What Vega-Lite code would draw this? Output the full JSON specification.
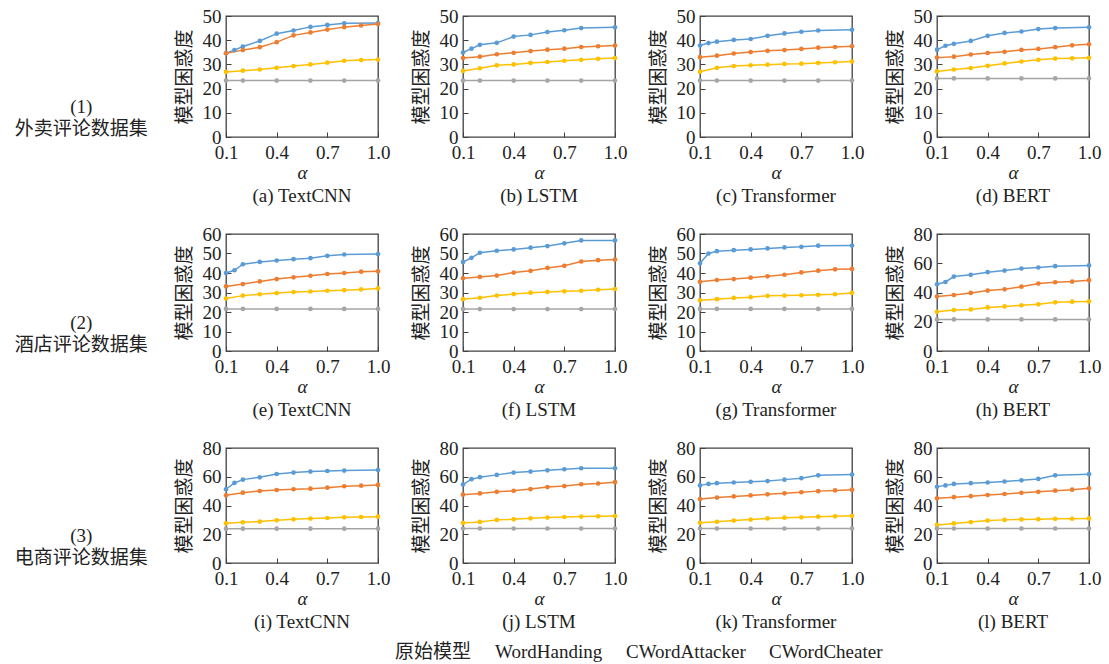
{
"$schema": "https://vega.github.io/schema/vega-lite/v6.json",
"padding": {"left": 14, "top": 6, "right": 5, "bottom": 5},
"background": "white",
"config": {
  "font": "Liberation Serif, Noto Sans CJK SC",
  "view": {"stroke": "#404040", "strokeWidth": 1.3},
  "axis": {"grid": false, "domain": false, "labelFlush": false, "tickColor": "#404040", "tickSize": -5, "labelFontSize": 19, "titleFontSize": 19, "labelColor": "#222", "titleColor": "#222", "titleFontWeight": "normal", "labelFont": "Liberation Serif", "titleFont": "Liberation Serif, Noto Sans CJK SC"},
  "axisX": {"titleFontStyle": "italic", "titlePadding": 1, "labelPadding": 11},
  "axisY": {"titlePadding": 8, "labelPadding": 10},
  "title": {"fontSize": 19, "fontWeight": "normal", "color": "#222", "font": "Liberation Serif, Noto Sans CJK SC"},
  "legend": {"orient": "none", "legendX": 150, "legendY": 626, "direction": "horizontal", "symbolSize": 1, "symbolOpacity": 0, "symbolStrokeWidth": 0, "labelFontSize": 19, "labelFont": "Liberation Serif, Noto Sans CJK SC", "labelColor": "#222", "columnPadding": 4, "labelOffset": 0}
},
"data": {"values": [
{"p":"a","s":"CWordCheater","x":0.1,"y":34.6},{"p":"a","s":"CWordCheater","x":0.15,"y":35.9},{"p":"a","s":"CWordCheater","x":0.2,"y":37.4},{"p":"a","s":"CWordCheater","x":0.3,"y":39.7},{"p":"a","s":"CWordCheater","x":0.4,"y":42.7},{"p":"a","s":"CWordCheater","x":0.5,"y":44},{"p":"a","s":"CWordCheater","x":0.6,"y":45.5},{"p":"a","s":"CWordCheater","x":0.7,"y":46.3},{"p":"a","s":"CWordCheater","x":0.8,"y":47},{"p":"a","s":"CWordCheater","x":1.0,"y":47.1},
{"p":"a","s":"CWordAttacker","x":0.1,"y":34.6},{"p":"a","s":"CWordAttacker","x":0.2,"y":35.9},{"p":"a","s":"CWordAttacker","x":0.3,"y":37.1},{"p":"a","s":"CWordAttacker","x":0.4,"y":39.2},{"p":"a","s":"CWordAttacker","x":0.5,"y":42},{"p":"a","s":"CWordAttacker","x":0.6,"y":43.2},{"p":"a","s":"CWordAttacker","x":0.7,"y":44.4},{"p":"a","s":"CWordAttacker","x":0.8,"y":45.4},{"p":"a","s":"CWordAttacker","x":0.9,"y":46.1},{"p":"a","s":"CWordAttacker","x":1.0,"y":46.7},
{"p":"a","s":"WordHanding","x":0.1,"y":26.9},{"p":"a","s":"WordHanding","x":0.2,"y":27.4},{"p":"a","s":"WordHanding","x":0.3,"y":27.9},{"p":"a","s":"WordHanding","x":0.4,"y":28.6},{"p":"a","s":"WordHanding","x":0.5,"y":29.3},{"p":"a","s":"WordHanding","x":0.6,"y":30},{"p":"a","s":"WordHanding","x":0.7,"y":30.7},{"p":"a","s":"WordHanding","x":0.8,"y":31.5},{"p":"a","s":"WordHanding","x":0.9,"y":31.8},{"p":"a","s":"WordHanding","x":1.0,"y":32},
{"p":"a","s":"原始模型","x":0.1,"y":23.3},{"p":"a","s":"原始模型","x":0.2,"y":23.3},{"p":"a","s":"原始模型","x":0.4,"y":23.3},{"p":"a","s":"原始模型","x":0.6,"y":23.3},{"p":"a","s":"原始模型","x":0.8,"y":23.3},{"p":"a","s":"原始模型","x":1.0,"y":23.3},

{"p":"b","s":"CWordCheater","x":0.1,"y":34.9},{"p":"b","s":"CWordCheater","x":0.15,"y":36.5},{"p":"b","s":"CWordCheater","x":0.2,"y":38.1},{"p":"b","s":"CWordCheater","x":0.3,"y":38.9},{"p":"b","s":"CWordCheater","x":0.4,"y":41.5},{"p":"b","s":"CWordCheater","x":0.5,"y":42.2},{"p":"b","s":"CWordCheater","x":0.6,"y":43.4},{"p":"b","s":"CWordCheater","x":0.7,"y":44.1},{"p":"b","s":"CWordCheater","x":0.8,"y":45},{"p":"b","s":"CWordCheater","x":1.0,"y":45.3},
{"p":"b","s":"CWordAttacker","x":0.1,"y":32.6},{"p":"b","s":"CWordAttacker","x":0.2,"y":33.2},{"p":"b","s":"CWordAttacker","x":0.3,"y":34.2},{"p":"b","s":"CWordAttacker","x":0.4,"y":34.8},{"p":"b","s":"CWordAttacker","x":0.5,"y":35.5},{"p":"b","s":"CWordAttacker","x":0.6,"y":36.1},{"p":"b","s":"CWordAttacker","x":0.7,"y":36.5},{"p":"b","s":"CWordAttacker","x":0.8,"y":37.2},{"p":"b","s":"CWordAttacker","x":0.9,"y":37.5},{"p":"b","s":"CWordAttacker","x":1.0,"y":37.8},
{"p":"b","s":"WordHanding","x":0.1,"y":27.3},{"p":"b","s":"WordHanding","x":0.2,"y":28.4},{"p":"b","s":"WordHanding","x":0.3,"y":29.6},{"p":"b","s":"WordHanding","x":0.4,"y":30},{"p":"b","s":"WordHanding","x":0.5,"y":30.6},{"p":"b","s":"WordHanding","x":0.6,"y":31},{"p":"b","s":"WordHanding","x":0.7,"y":31.5},{"p":"b","s":"WordHanding","x":0.8,"y":31.9},{"p":"b","s":"WordHanding","x":0.9,"y":32.3},{"p":"b","s":"WordHanding","x":1.0,"y":32.6},
{"p":"b","s":"原始模型","x":0.1,"y":23.3},{"p":"b","s":"原始模型","x":0.2,"y":23.3},{"p":"b","s":"原始模型","x":0.4,"y":23.3},{"p":"b","s":"原始模型","x":0.6,"y":23.3},{"p":"b","s":"原始模型","x":0.8,"y":23.3},{"p":"b","s":"原始模型","x":1.0,"y":23.3},

{"p":"c","s":"CWordCheater","x":0.1,"y":37.8},{"p":"c","s":"CWordCheater","x":0.15,"y":38.8},{"p":"c","s":"CWordCheater","x":0.2,"y":39.4},{"p":"c","s":"CWordCheater","x":0.3,"y":40.1},{"p":"c","s":"CWordCheater","x":0.4,"y":40.5},{"p":"c","s":"CWordCheater","x":0.5,"y":41.8},{"p":"c","s":"CWordCheater","x":0.6,"y":42.8},{"p":"c","s":"CWordCheater","x":0.7,"y":43.5},{"p":"c","s":"CWordCheater","x":0.8,"y":44},{"p":"c","s":"CWordCheater","x":1.0,"y":44.3},
{"p":"c","s":"CWordAttacker","x":0.1,"y":33},{"p":"c","s":"CWordAttacker","x":0.2,"y":33.6},{"p":"c","s":"CWordAttacker","x":0.3,"y":34.5},{"p":"c","s":"CWordAttacker","x":0.4,"y":35.1},{"p":"c","s":"CWordAttacker","x":0.5,"y":35.6},{"p":"c","s":"CWordAttacker","x":0.6,"y":35.9},{"p":"c","s":"CWordAttacker","x":0.7,"y":36.4},{"p":"c","s":"CWordAttacker","x":0.8,"y":36.9},{"p":"c","s":"CWordAttacker","x":0.9,"y":37.2},{"p":"c","s":"CWordAttacker","x":1.0,"y":37.5},
{"p":"c","s":"WordHanding","x":0.1,"y":27},{"p":"c","s":"WordHanding","x":0.2,"y":28.6},{"p":"c","s":"WordHanding","x":0.3,"y":29.3},{"p":"c","s":"WordHanding","x":0.4,"y":29.6},{"p":"c","s":"WordHanding","x":0.5,"y":29.9},{"p":"c","s":"WordHanding","x":0.6,"y":30.2},{"p":"c","s":"WordHanding","x":0.7,"y":30.3},{"p":"c","s":"WordHanding","x":0.8,"y":30.6},{"p":"c","s":"WordHanding","x":0.9,"y":30.9},{"p":"c","s":"WordHanding","x":1.0,"y":31.2},
{"p":"c","s":"原始模型","x":0.1,"y":23.3},{"p":"c","s":"原始模型","x":0.2,"y":23.3},{"p":"c","s":"原始模型","x":0.4,"y":23.3},{"p":"c","s":"原始模型","x":0.6,"y":23.3},{"p":"c","s":"原始模型","x":0.8,"y":23.3},{"p":"c","s":"原始模型","x":1.0,"y":23.3},

{"p":"d","s":"CWordCheater","x":0.1,"y":36.1},{"p":"d","s":"CWordCheater","x":0.15,"y":37.7},{"p":"d","s":"CWordCheater","x":0.2,"y":38.5},{"p":"d","s":"CWordCheater","x":0.3,"y":39.7},{"p":"d","s":"CWordCheater","x":0.4,"y":41.8},{"p":"d","s":"CWordCheater","x":0.5,"y":43},{"p":"d","s":"CWordCheater","x":0.6,"y":43.6},{"p":"d","s":"CWordCheater","x":0.7,"y":44.6},{"p":"d","s":"CWordCheater","x":0.8,"y":45},{"p":"d","s":"CWordCheater","x":1.0,"y":45.3},
{"p":"d","s":"CWordAttacker","x":0.1,"y":32.8},{"p":"d","s":"CWordAttacker","x":0.2,"y":33.2},{"p":"d","s":"CWordAttacker","x":0.3,"y":34.1},{"p":"d","s":"CWordAttacker","x":0.4,"y":34.7},{"p":"d","s":"CWordAttacker","x":0.5,"y":35.2},{"p":"d","s":"CWordAttacker","x":0.6,"y":36},{"p":"d","s":"CWordAttacker","x":0.7,"y":36.4},{"p":"d","s":"CWordAttacker","x":0.8,"y":37.1},{"p":"d","s":"CWordAttacker","x":0.9,"y":37.9},{"p":"d","s":"CWordAttacker","x":1.0,"y":38.3},
{"p":"d","s":"WordHanding","x":0.1,"y":27.1},{"p":"d","s":"WordHanding","x":0.2,"y":27.9},{"p":"d","s":"WordHanding","x":0.3,"y":28.5},{"p":"d","s":"WordHanding","x":0.4,"y":29.4},{"p":"d","s":"WordHanding","x":0.5,"y":30.4},{"p":"d","s":"WordHanding","x":0.6,"y":31.2},{"p":"d","s":"WordHanding","x":0.7,"y":31.9},{"p":"d","s":"WordHanding","x":0.8,"y":32.4},{"p":"d","s":"WordHanding","x":0.9,"y":32.5},{"p":"d","s":"WordHanding","x":1.0,"y":32.7},
{"p":"d","s":"原始模型","x":0.1,"y":24.2},{"p":"d","s":"原始模型","x":0.2,"y":24.2},{"p":"d","s":"原始模型","x":0.4,"y":24.2},{"p":"d","s":"原始模型","x":0.6,"y":24.2},{"p":"d","s":"原始模型","x":0.8,"y":24.2},{"p":"d","s":"原始模型","x":1.0,"y":24.2},

{"p":"e","s":"CWordCheater","x":0.1,"y":40},{"p":"e","s":"CWordCheater","x":0.15,"y":41.4},{"p":"e","s":"CWordCheater","x":0.2,"y":44.5},{"p":"e","s":"CWordCheater","x":0.3,"y":45.7},{"p":"e","s":"CWordCheater","x":0.4,"y":46.4},{"p":"e","s":"CWordCheater","x":0.5,"y":47.1},{"p":"e","s":"CWordCheater","x":0.6,"y":47.6},{"p":"e","s":"CWordCheater","x":0.7,"y":48.8},{"p":"e","s":"CWordCheater","x":0.8,"y":49.5},{"p":"e","s":"CWordCheater","x":1.0,"y":49.7},
{"p":"e","s":"CWordAttacker","x":0.1,"y":33.1},{"p":"e","s":"CWordAttacker","x":0.2,"y":34.3},{"p":"e","s":"CWordAttacker","x":0.3,"y":35.7},{"p":"e","s":"CWordAttacker","x":0.4,"y":36.9},{"p":"e","s":"CWordAttacker","x":0.5,"y":37.8},{"p":"e","s":"CWordAttacker","x":0.6,"y":38.6},{"p":"e","s":"CWordAttacker","x":0.7,"y":39.5},{"p":"e","s":"CWordAttacker","x":0.8,"y":40},{"p":"e","s":"CWordAttacker","x":0.9,"y":40.7},{"p":"e","s":"CWordAttacker","x":1.0,"y":40.9},
{"p":"e","s":"WordHanding","x":0.1,"y":26.9},{"p":"e","s":"WordHanding","x":0.2,"y":28.4},{"p":"e","s":"WordHanding","x":0.3,"y":29.1},{"p":"e","s":"WordHanding","x":0.4,"y":29.7},{"p":"e","s":"WordHanding","x":0.5,"y":30.2},{"p":"e","s":"WordHanding","x":0.6,"y":30.5},{"p":"e","s":"WordHanding","x":0.7,"y":30.9},{"p":"e","s":"WordHanding","x":0.8,"y":31.2},{"p":"e","s":"WordHanding","x":0.9,"y":31.6},{"p":"e","s":"WordHanding","x":1.0,"y":32.1},
{"p":"e","s":"原始模型","x":0.1,"y":21.6},{"p":"e","s":"原始模型","x":0.2,"y":21.6},{"p":"e","s":"原始模型","x":0.4,"y":21.6},{"p":"e","s":"原始模型","x":0.6,"y":21.6},{"p":"e","s":"原始模型","x":0.8,"y":21.6},{"p":"e","s":"原始模型","x":1.0,"y":21.6},

{"p":"f","s":"CWordCheater","x":0.1,"y":45.6},{"p":"f","s":"CWordCheater","x":0.15,"y":47.8},{"p":"f","s":"CWordCheater","x":0.2,"y":50.4},{"p":"f","s":"CWordCheater","x":0.3,"y":51.4},{"p":"f","s":"CWordCheater","x":0.4,"y":52.1},{"p":"f","s":"CWordCheater","x":0.5,"y":53},{"p":"f","s":"CWordCheater","x":0.6,"y":53.8},{"p":"f","s":"CWordCheater","x":0.7,"y":55.2},{"p":"f","s":"CWordCheater","x":0.8,"y":56.7},{"p":"f","s":"CWordCheater","x":1.0,"y":56.7},
{"p":"f","s":"CWordAttacker","x":0.1,"y":37.3},{"p":"f","s":"CWordAttacker","x":0.2,"y":38},{"p":"f","s":"CWordAttacker","x":0.3,"y":38.7},{"p":"f","s":"CWordAttacker","x":0.4,"y":40.2},{"p":"f","s":"CWordAttacker","x":0.5,"y":41.1},{"p":"f","s":"CWordAttacker","x":0.6,"y":42.6},{"p":"f","s":"CWordAttacker","x":0.7,"y":43.7},{"p":"f","s":"CWordAttacker","x":0.8,"y":45.9},{"p":"f","s":"CWordAttacker","x":0.9,"y":46.6},{"p":"f","s":"CWordAttacker","x":1.0,"y":46.9},
{"p":"f","s":"WordHanding","x":0.1,"y":26.6},{"p":"f","s":"WordHanding","x":0.2,"y":27.3},{"p":"f","s":"WordHanding","x":0.3,"y":28.4},{"p":"f","s":"WordHanding","x":0.4,"y":29.2},{"p":"f","s":"WordHanding","x":0.5,"y":29.9},{"p":"f","s":"WordHanding","x":0.6,"y":30.3},{"p":"f","s":"WordHanding","x":0.7,"y":30.6},{"p":"f","s":"WordHanding","x":0.8,"y":30.9},{"p":"f","s":"WordHanding","x":0.9,"y":31.4},{"p":"f","s":"WordHanding","x":1.0,"y":31.8},
{"p":"f","s":"原始模型","x":0.1,"y":21.5},{"p":"f","s":"原始模型","x":0.2,"y":21.5},{"p":"f","s":"原始模型","x":0.4,"y":21.5},{"p":"f","s":"原始模型","x":0.6,"y":21.5},{"p":"f","s":"原始模型","x":0.8,"y":21.5},{"p":"f","s":"原始模型","x":1.0,"y":21.5},

{"p":"g","s":"CWordCheater","x":0.1,"y":45},{"p":"g","s":"CWordCheater","x":0.15,"y":50},{"p":"g","s":"CWordCheater","x":0.2,"y":51.2},{"p":"g","s":"CWordCheater","x":0.3,"y":51.7},{"p":"g","s":"CWordCheater","x":0.4,"y":52.1},{"p":"g","s":"CWordCheater","x":0.5,"y":52.6},{"p":"g","s":"CWordCheater","x":0.6,"y":53.1},{"p":"g","s":"CWordCheater","x":0.7,"y":53.4},{"p":"g","s":"CWordCheater","x":0.8,"y":54},{"p":"g","s":"CWordCheater","x":1.0,"y":54.1},
{"p":"g","s":"CWordAttacker","x":0.1,"y":35.5},{"p":"g","s":"CWordAttacker","x":0.2,"y":36.4},{"p":"g","s":"CWordAttacker","x":0.3,"y":36.9},{"p":"g","s":"CWordAttacker","x":0.4,"y":37.6},{"p":"g","s":"CWordAttacker","x":0.5,"y":38.3},{"p":"g","s":"CWordAttacker","x":0.6,"y":39.1},{"p":"g","s":"CWordAttacker","x":0.7,"y":40.3},{"p":"g","s":"CWordAttacker","x":0.8,"y":41.2},{"p":"g","s":"CWordAttacker","x":0.9,"y":41.9},{"p":"g","s":"CWordAttacker","x":1.0,"y":42.1},
{"p":"g","s":"WordHanding","x":0.1,"y":26},{"p":"g","s":"WordHanding","x":0.2,"y":26.6},{"p":"g","s":"WordHanding","x":0.3,"y":27.2},{"p":"g","s":"WordHanding","x":0.4,"y":27.6},{"p":"g","s":"WordHanding","x":0.5,"y":28.3},{"p":"g","s":"WordHanding","x":0.6,"y":28.4},{"p":"g","s":"WordHanding","x":0.7,"y":28.6},{"p":"g","s":"WordHanding","x":0.8,"y":28.8},{"p":"g","s":"WordHanding","x":0.9,"y":29.1},{"p":"g","s":"WordHanding","x":1.0,"y":29.8},
{"p":"g","s":"原始模型","x":0.1,"y":21.6},{"p":"g","s":"原始模型","x":0.2,"y":21.6},{"p":"g","s":"原始模型","x":0.4,"y":21.6},{"p":"g","s":"原始模型","x":0.6,"y":21.6},{"p":"g","s":"原始模型","x":0.8,"y":21.6},{"p":"g","s":"原始模型","x":1.0,"y":21.6},

{"p":"h","s":"CWordCheater","x":0.1,"y":45.6},{"p":"h","s":"CWordCheater","x":0.15,"y":47.2},{"p":"h","s":"CWordCheater","x":0.2,"y":50.9},{"p":"h","s":"CWordCheater","x":0.3,"y":52.1},{"p":"h","s":"CWordCheater","x":0.4,"y":53.9},{"p":"h","s":"CWordCheater","x":0.5,"y":55},{"p":"h","s":"CWordCheater","x":0.6,"y":56.4},{"p":"h","s":"CWordCheater","x":0.7,"y":57.1},{"p":"h","s":"CWordCheater","x":0.8,"y":58},{"p":"h","s":"CWordCheater","x":1.0,"y":58.5},
{"p":"h","s":"CWordAttacker","x":0.1,"y":37.2},{"p":"h","s":"CWordAttacker","x":0.2,"y":38.3},{"p":"h","s":"CWordAttacker","x":0.3,"y":39.7},{"p":"h","s":"CWordAttacker","x":0.4,"y":41.3},{"p":"h","s":"CWordAttacker","x":0.5,"y":42.2},{"p":"h","s":"CWordAttacker","x":0.6,"y":44},{"p":"h","s":"CWordAttacker","x":0.7,"y":46.1},{"p":"h","s":"CWordAttacker","x":0.8,"y":47},{"p":"h","s":"CWordAttacker","x":0.9,"y":47.5},{"p":"h","s":"CWordAttacker","x":1.0,"y":48.4},
{"p":"h","s":"WordHanding","x":0.1,"y":26.8},{"p":"h","s":"WordHanding","x":0.2,"y":28},{"p":"h","s":"WordHanding","x":0.3,"y":28.4},{"p":"h","s":"WordHanding","x":0.4,"y":29.8},{"p":"h","s":"WordHanding","x":0.5,"y":30.5},{"p":"h","s":"WordHanding","x":0.6,"y":31.2},{"p":"h","s":"WordHanding","x":0.7,"y":31.9},{"p":"h","s":"WordHanding","x":0.8,"y":33.3},{"p":"h","s":"WordHanding","x":0.9,"y":33.7},{"p":"h","s":"WordHanding","x":1.0,"y":33.9},
{"p":"h","s":"原始模型","x":0.1,"y":21.6},{"p":"h","s":"原始模型","x":0.2,"y":21.6},{"p":"h","s":"原始模型","x":0.4,"y":21.6},{"p":"h","s":"原始模型","x":0.6,"y":21.6},{"p":"h","s":"原始模型","x":0.8,"y":21.6},{"p":"h","s":"原始模型","x":1.0,"y":21.6},

{"p":"i","s":"CWordCheater","x":0.1,"y":51.3},{"p":"i","s":"CWordCheater","x":0.15,"y":55.7},{"p":"i","s":"CWordCheater","x":0.2,"y":58},{"p":"i","s":"CWordCheater","x":0.3,"y":59.6},{"p":"i","s":"CWordCheater","x":0.4,"y":61.9},{"p":"i","s":"CWordCheater","x":0.5,"y":62.9},{"p":"i","s":"CWordCheater","x":0.6,"y":63.6},{"p":"i","s":"CWordCheater","x":0.7,"y":64},{"p":"i","s":"CWordCheater","x":0.8,"y":64.3},{"p":"i","s":"CWordCheater","x":1.0,"y":64.7},
{"p":"i","s":"CWordAttacker","x":0.1,"y":47.1},{"p":"i","s":"CWordAttacker","x":0.2,"y":48.9},{"p":"i","s":"CWordAttacker","x":0.3,"y":50.1},{"p":"i","s":"CWordAttacker","x":0.4,"y":50.8},{"p":"i","s":"CWordAttacker","x":0.5,"y":51.3},{"p":"i","s":"CWordAttacker","x":0.6,"y":51.7},{"p":"i","s":"CWordAttacker","x":0.7,"y":52.4},{"p":"i","s":"CWordAttacker","x":0.8,"y":53.4},{"p":"i","s":"CWordAttacker","x":0.9,"y":53.8},{"p":"i","s":"CWordAttacker","x":1.0,"y":54.3},
{"p":"i","s":"WordHanding","x":0.1,"y":27.6},{"p":"i","s":"WordHanding","x":0.2,"y":28.3},{"p":"i","s":"WordHanding","x":0.3,"y":28.8},{"p":"i","s":"WordHanding","x":0.4,"y":29.7},{"p":"i","s":"WordHanding","x":0.5,"y":30.4},{"p":"i","s":"WordHanding","x":0.6,"y":30.9},{"p":"i","s":"WordHanding","x":0.7,"y":31.3},{"p":"i","s":"WordHanding","x":0.8,"y":31.8},{"p":"i","s":"WordHanding","x":0.9,"y":32},{"p":"i","s":"WordHanding","x":1.0,"y":32.2},
{"p":"i","s":"原始模型","x":0.1,"y":23.9},{"p":"i","s":"原始模型","x":0.2,"y":23.9},{"p":"i","s":"原始模型","x":0.4,"y":23.9},{"p":"i","s":"原始模型","x":0.6,"y":23.9},{"p":"i","s":"原始模型","x":0.8,"y":23.9},{"p":"i","s":"原始模型","x":1.0,"y":23.9},

{"p":"j","s":"CWordCheater","x":0.1,"y":54.6},{"p":"j","s":"CWordCheater","x":0.15,"y":58.3},{"p":"j","s":"CWordCheater","x":0.2,"y":59.7},{"p":"j","s":"CWordCheater","x":0.3,"y":61.3},{"p":"j","s":"CWordCheater","x":0.4,"y":62.9},{"p":"j","s":"CWordCheater","x":0.5,"y":63.6},{"p":"j","s":"CWordCheater","x":0.6,"y":64.5},{"p":"j","s":"CWordCheater","x":0.7,"y":65.2},{"p":"j","s":"CWordCheater","x":0.8,"y":65.9},{"p":"j","s":"CWordCheater","x":1.0,"y":65.9},
{"p":"j","s":"CWordAttacker","x":0.1,"y":47.5},{"p":"j","s":"CWordAttacker","x":0.2,"y":48.4},{"p":"j","s":"CWordAttacker","x":0.3,"y":49.5},{"p":"j","s":"CWordAttacker","x":0.4,"y":50.2},{"p":"j","s":"CWordAttacker","x":0.5,"y":51.4},{"p":"j","s":"CWordAttacker","x":0.6,"y":52.8},{"p":"j","s":"CWordAttacker","x":0.7,"y":53.5},{"p":"j","s":"CWordAttacker","x":0.8,"y":54.8},{"p":"j","s":"CWordAttacker","x":0.9,"y":55.3},{"p":"j","s":"CWordAttacker","x":1.0,"y":56.2},
{"p":"j","s":"WordHanding","x":0.1,"y":27.9},{"p":"j","s":"WordHanding","x":0.2,"y":28.6},{"p":"j","s":"WordHanding","x":0.3,"y":30},{"p":"j","s":"WordHanding","x":0.4,"y":30.4},{"p":"j","s":"WordHanding","x":0.5,"y":31.1},{"p":"j","s":"WordHanding","x":0.6,"y":31.6},{"p":"j","s":"WordHanding","x":0.7,"y":32},{"p":"j","s":"WordHanding","x":0.8,"y":32.3},{"p":"j","s":"WordHanding","x":0.9,"y":32.5},{"p":"j","s":"WordHanding","x":1.0,"y":32.7},
{"p":"j","s":"原始模型","x":0.1,"y":24},{"p":"j","s":"原始模型","x":0.2,"y":24},{"p":"j","s":"原始模型","x":0.4,"y":24},{"p":"j","s":"原始模型","x":0.6,"y":24},{"p":"j","s":"原始模型","x":0.8,"y":24},{"p":"j","s":"原始模型","x":1.0,"y":24},

{"p":"k","s":"CWordCheater","x":0.1,"y":54},{"p":"k","s":"CWordCheater","x":0.15,"y":55},{"p":"k","s":"CWordCheater","x":0.2,"y":55.5},{"p":"k","s":"CWordCheater","x":0.3,"y":56},{"p":"k","s":"CWordCheater","x":0.4,"y":56.5},{"p":"k","s":"CWordCheater","x":0.5,"y":57},{"p":"k","s":"CWordCheater","x":0.6,"y":58},{"p":"k","s":"CWordCheater","x":0.7,"y":59},{"p":"k","s":"CWordCheater","x":0.8,"y":61},{"p":"k","s":"CWordCheater","x":1.0,"y":61.5},
{"p":"k","s":"CWordAttacker","x":0.1,"y":44.5},{"p":"k","s":"CWordAttacker","x":0.2,"y":45.5},{"p":"k","s":"CWordAttacker","x":0.3,"y":46.3},{"p":"k","s":"CWordAttacker","x":0.4,"y":47},{"p":"k","s":"CWordAttacker","x":0.5,"y":47.8},{"p":"k","s":"CWordAttacker","x":0.6,"y":48.5},{"p":"k","s":"CWordAttacker","x":0.7,"y":49.2},{"p":"k","s":"CWordAttacker","x":0.8,"y":50},{"p":"k","s":"CWordAttacker","x":0.9,"y":50.5},{"p":"k","s":"CWordAttacker","x":1.0,"y":51},
{"p":"k","s":"WordHanding","x":0.1,"y":28},{"p":"k","s":"WordHanding","x":0.2,"y":28.7},{"p":"k","s":"WordHanding","x":0.3,"y":29.5},{"p":"k","s":"WordHanding","x":0.4,"y":30.2},{"p":"k","s":"WordHanding","x":0.5,"y":31},{"p":"k","s":"WordHanding","x":0.6,"y":31.5},{"p":"k","s":"WordHanding","x":0.7,"y":31.8},{"p":"k","s":"WordHanding","x":0.8,"y":32.2},{"p":"k","s":"WordHanding","x":0.9,"y":32.5},{"p":"k","s":"WordHanding","x":1.0,"y":32.8},
{"p":"k","s":"原始模型","x":0.1,"y":24},{"p":"k","s":"原始模型","x":0.2,"y":24},{"p":"k","s":"原始模型","x":0.4,"y":24},{"p":"k","s":"原始模型","x":0.6,"y":24},{"p":"k","s":"原始模型","x":0.8,"y":24},{"p":"k","s":"原始模型","x":1.0,"y":24},

{"p":"l","s":"CWordCheater","x":0.1,"y":53},{"p":"l","s":"CWordCheater","x":0.15,"y":54},{"p":"l","s":"CWordCheater","x":0.2,"y":55},{"p":"l","s":"CWordCheater","x":0.3,"y":55.5},{"p":"l","s":"CWordCheater","x":0.4,"y":56},{"p":"l","s":"CWordCheater","x":0.5,"y":56.7},{"p":"l","s":"CWordCheater","x":0.6,"y":57.5},{"p":"l","s":"CWordCheater","x":0.7,"y":58.5},{"p":"l","s":"CWordCheater","x":0.8,"y":61},{"p":"l","s":"CWordCheater","x":1.0,"y":61.8},
{"p":"l","s":"CWordAttacker","x":0.1,"y":45},{"p":"l","s":"CWordAttacker","x":0.2,"y":45.8},{"p":"l","s":"CWordAttacker","x":0.3,"y":46.5},{"p":"l","s":"CWordAttacker","x":0.4,"y":47.3},{"p":"l","s":"CWordAttacker","x":0.5,"y":48},{"p":"l","s":"CWordAttacker","x":0.6,"y":48.8},{"p":"l","s":"CWordAttacker","x":0.7,"y":49.5},{"p":"l","s":"CWordAttacker","x":0.8,"y":50.3},{"p":"l","s":"CWordAttacker","x":0.9,"y":51},{"p":"l","s":"CWordAttacker","x":1.0,"y":52},
{"p":"l","s":"WordHanding","x":0.1,"y":26.5},{"p":"l","s":"WordHanding","x":0.2,"y":27.5},{"p":"l","s":"WordHanding","x":0.3,"y":28.5},{"p":"l","s":"WordHanding","x":0.4,"y":29.5},{"p":"l","s":"WordHanding","x":0.5,"y":30},{"p":"l","s":"WordHanding","x":0.6,"y":30.3},{"p":"l","s":"WordHanding","x":0.7,"y":30.5},{"p":"l","s":"WordHanding","x":0.8,"y":30.7},{"p":"l","s":"WordHanding","x":0.9,"y":30.8},{"p":"l","s":"WordHanding","x":1.0,"y":31},
{"p":"l","s":"原始模型","x":0.1,"y":24},{"p":"l","s":"原始模型","x":0.2,"y":24},{"p":"l","s":"原始模型","x":0.4,"y":24},{"p":"l","s":"原始模型","x":0.6,"y":24},{"p":"l","s":"原始模型","x":0.8,"y":24},{"p":"l","s":"原始模型","x":1.0,"y":24}
]},
"spacing": 17,
"vconcat": [
 {"bounds": "flush", "spacing": 85,
  "title": {"text": ["(1)", "外卖评论数据集"], "orient": "left", "angle": 0, "align": "center", "baseline": "middle", "anchor": "middle", "offset": -40, "lineHeight": 22},
  "hconcat": [
   {"width":152,"height":121,"title":{"text":"(a) TextCNN","orient":"bottom","offset":5},"transform":[{"filter":"datum.p=='a'"}],
    "encoding":{"x":{"field":"x","type":"quantitative","scale":{"domain":[0.1,1]},"axis":{"values":[0.1,0.4,0.7,1.0],"format":".1f","title":"α"}},
     "y":{"field":"y","type":"quantitative","scale":{"domain":[0,50]},"axis":{"values":[0,10,20,30,40,50],"title":"模型困惑度"}},
     "color":{"field":"s","type":"nominal","title":null,"scale":{"domain":["原始模型","WordHanding","CWordAttacker","CWordCheater"],"range":["#A5A5A5","#FFC000","#ED7D31","#5B9BD5"]}}},
    "layer":[{"mark":{"type":"line","strokeWidth":1.5}},{"mark":{"type":"point","filled":true,"size":22,"opacity":1}}]},
   {"width":152,"height":121,"title":{"text":"(b) LSTM","orient":"bottom","offset":5},"transform":[{"filter":"datum.p=='b'"}],
    "encoding":{"x":{"field":"x","type":"quantitative","scale":{"domain":[0.1,1]},"axis":{"values":[0.1,0.4,0.7,1.0],"format":".1f","title":"α"}},
     "y":{"field":"y","type":"quantitative","scale":{"domain":[0,50]},"axis":{"values":[0,10,20,30,40,50],"title":"模型困惑度"}},
     "color":{"field":"s","type":"nominal","title":null,"scale":{"domain":["原始模型","WordHanding","CWordAttacker","CWordCheater"],"range":["#A5A5A5","#FFC000","#ED7D31","#5B9BD5"]}}},
    "layer":[{"mark":{"type":"line","strokeWidth":1.5}},{"mark":{"type":"point","filled":true,"size":22,"opacity":1}}]},
   {"width":152,"height":121,"title":{"text":"(c) Transformer","orient":"bottom","offset":5},"transform":[{"filter":"datum.p=='c'"}],
    "encoding":{"x":{"field":"x","type":"quantitative","scale":{"domain":[0.1,1]},"axis":{"values":[0.1,0.4,0.7,1.0],"format":".1f","title":"α"}},
     "y":{"field":"y","type":"quantitative","scale":{"domain":[0,50]},"axis":{"values":[0,10,20,30,40,50],"title":"模型困惑度"}},
     "color":{"field":"s","type":"nominal","title":null,"scale":{"domain":["原始模型","WordHanding","CWordAttacker","CWordCheater"],"range":["#A5A5A5","#FFC000","#ED7D31","#5B9BD5"]}}},
    "layer":[{"mark":{"type":"line","strokeWidth":1.5}},{"mark":{"type":"point","filled":true,"size":22,"opacity":1}}]},
   {"width":152,"height":121,"title":{"text":"(d) BERT","orient":"bottom","offset":5},"transform":[{"filter":"datum.p=='d'"}],
    "encoding":{"x":{"field":"x","type":"quantitative","scale":{"domain":[0.1,1]},"axis":{"values":[0.1,0.4,0.7,1.0],"format":".1f","title":"α"}},
     "y":{"field":"y","type":"quantitative","scale":{"domain":[0,50]},"axis":{"values":[0,10,20,30,40,50],"title":"模型困惑度"}},
     "color":{"field":"s","type":"nominal","title":null,"scale":{"domain":["原始模型","WordHanding","CWordAttacker","CWordCheater"],"range":["#A5A5A5","#FFC000","#ED7D31","#5B9BD5"]}}},
    "layer":[{"mark":{"type":"line","strokeWidth":1.5}},{"mark":{"type":"point","filled":true,"size":22,"opacity":1}}]}
  ]},
 {"bounds": "flush", "spacing": 85,
  "title": {"text": ["(2)", "酒店评论数据集"], "orient": "left", "angle": 0, "align": "center", "baseline": "middle", "anchor": "middle", "offset": -40, "lineHeight": 22},
  "hconcat": [
   {"width":152,"height":117,"title":{"text":"(e) TextCNN","orient":"bottom","offset":5},"transform":[{"filter":"datum.p=='e'"}],
    "encoding":{"x":{"field":"x","type":"quantitative","scale":{"domain":[0.1,1]},"axis":{"values":[0.1,0.4,0.7,1.0],"format":".1f","title":"α"}},
     "y":{"field":"y","type":"quantitative","scale":{"domain":[0,60]},"axis":{"values":[0,10,20,30,40,50,60],"title":"模型困惑度"}},
     "color":{"field":"s","type":"nominal","title":null,"scale":{"domain":["原始模型","WordHanding","CWordAttacker","CWordCheater"],"range":["#A5A5A5","#FFC000","#ED7D31","#5B9BD5"]}}},
    "layer":[{"mark":{"type":"line","strokeWidth":1.5}},{"mark":{"type":"point","filled":true,"size":22,"opacity":1}}]},
   {"width":152,"height":117,"title":{"text":"(f) LSTM","orient":"bottom","offset":5},"transform":[{"filter":"datum.p=='f'"}],
    "encoding":{"x":{"field":"x","type":"quantitative","scale":{"domain":[0.1,1]},"axis":{"values":[0.1,0.4,0.7,1.0],"format":".1f","title":"α"}},
     "y":{"field":"y","type":"quantitative","scale":{"domain":[0,60]},"axis":{"values":[0,10,20,30,40,50,60],"title":"模型困惑度"}},
     "color":{"field":"s","type":"nominal","title":null,"scale":{"domain":["原始模型","WordHanding","CWordAttacker","CWordCheater"],"range":["#A5A5A5","#FFC000","#ED7D31","#5B9BD5"]}}},
    "layer":[{"mark":{"type":"line","strokeWidth":1.5}},{"mark":{"type":"point","filled":true,"size":22,"opacity":1}}]},
   {"width":152,"height":117,"title":{"text":"(g) Transformer","orient":"bottom","offset":5},"transform":[{"filter":"datum.p=='g'"}],
    "encoding":{"x":{"field":"x","type":"quantitative","scale":{"domain":[0.1,1]},"axis":{"values":[0.1,0.4,0.7,1.0],"format":".1f","title":"α"}},
     "y":{"field":"y","type":"quantitative","scale":{"domain":[0,60]},"axis":{"values":[0,10,20,30,40,50,60],"title":"模型困惑度"}},
     "color":{"field":"s","type":"nominal","title":null,"scale":{"domain":["原始模型","WordHanding","CWordAttacker","CWordCheater"],"range":["#A5A5A5","#FFC000","#ED7D31","#5B9BD5"]}}},
    "layer":[{"mark":{"type":"line","strokeWidth":1.5}},{"mark":{"type":"point","filled":true,"size":22,"opacity":1}}]},
   {"width":152,"height":117,"title":{"text":"(h) BERT","orient":"bottom","offset":5},"transform":[{"filter":"datum.p=='h'"}],
    "encoding":{"x":{"field":"x","type":"quantitative","scale":{"domain":[0.1,1]},"axis":{"values":[0.1,0.4,0.7,1.0],"format":".1f","title":"α"}},
     "y":{"field":"y","type":"quantitative","scale":{"domain":[0,80]},"axis":{"values":[0,20,40,60,80],"title":"模型困惑度"}},
     "color":{"field":"s","type":"nominal","title":null,"scale":{"domain":["原始模型","WordHanding","CWordAttacker","CWordCheater"],"range":["#A5A5A5","#FFC000","#ED7D31","#5B9BD5"]}}},
    "layer":[{"mark":{"type":"line","strokeWidth":1.5}},{"mark":{"type":"point","filled":true,"size":22,"opacity":1}}]}
  ]},
 {"bounds": "flush", "spacing": 85,
  "title": {"text": ["(3)", "电商评论数据集"], "orient": "left", "angle": 0, "align": "center", "baseline": "middle", "anchor": "middle", "offset": -40, "lineHeight": 22},
  "hconcat": [
   {"width":152,"height":115,"title":{"text":"(i) TextCNN","orient":"bottom","offset":5},"transform":[{"filter":"datum.p=='i'"}],
    "encoding":{"x":{"field":"x","type":"quantitative","scale":{"domain":[0.1,1]},"axis":{"values":[0.1,0.4,0.7,1.0],"format":".1f","title":"α"}},
     "y":{"field":"y","type":"quantitative","scale":{"domain":[0,80]},"axis":{"values":[0,20,40,60,80],"title":"模型困惑度"}},
     "color":{"field":"s","type":"nominal","title":null,"scale":{"domain":["原始模型","WordHanding","CWordAttacker","CWordCheater"],"range":["#A5A5A5","#FFC000","#ED7D31","#5B9BD5"]}}},
    "layer":[{"mark":{"type":"line","strokeWidth":1.5}},{"mark":{"type":"point","filled":true,"size":22,"opacity":1}}]},
   {"width":152,"height":115,"title":{"text":"(j) LSTM","orient":"bottom","offset":5},"transform":[{"filter":"datum.p=='j'"}],
    "encoding":{"x":{"field":"x","type":"quantitative","scale":{"domain":[0.1,1]},"axis":{"values":[0.1,0.4,0.7,1.0],"format":".1f","title":"α"}},
     "y":{"field":"y","type":"quantitative","scale":{"domain":[0,80]},"axis":{"values":[0,20,40,60,80],"title":"模型困惑度"}},
     "color":{"field":"s","type":"nominal","title":null,"scale":{"domain":["原始模型","WordHanding","CWordAttacker","CWordCheater"],"range":["#A5A5A5","#FFC000","#ED7D31","#5B9BD5"]}}},
    "layer":[{"mark":{"type":"line","strokeWidth":1.5}},{"mark":{"type":"point","filled":true,"size":22,"opacity":1}}]},
   {"width":152,"height":115,"title":{"text":"(k) Transformer","orient":"bottom","offset":5},"transform":[{"filter":"datum.p=='k'"}],
    "encoding":{"x":{"field":"x","type":"quantitative","scale":{"domain":[0.1,1]},"axis":{"values":[0.1,0.4,0.7,1.0],"format":".1f","title":"α"}},
     "y":{"field":"y","type":"quantitative","scale":{"domain":[0,80]},"axis":{"values":[0,20,40,60,80],"title":"模型困惑度"}},
     "color":{"field":"s","type":"nominal","title":null,"scale":{"domain":["原始模型","WordHanding","CWordAttacker","CWordCheater"],"range":["#A5A5A5","#FFC000","#ED7D31","#5B9BD5"]}}},
    "layer":[{"mark":{"type":"line","strokeWidth":1.5}},{"mark":{"type":"point","filled":true,"size":22,"opacity":1}}]},
   {"width":152,"height":115,"title":{"text":"(l) BERT","orient":"bottom","offset":5},"transform":[{"filter":"datum.p=='l'"}],
    "encoding":{"x":{"field":"x","type":"quantitative","scale":{"domain":[0.1,1]},"axis":{"values":[0.1,0.4,0.7,1.0],"format":".1f","title":"α"}},
     "y":{"field":"y","type":"quantitative","scale":{"domain":[0,80]},"axis":{"values":[0,20,40,60,80],"title":"模型困惑度"}},
     "color":{"field":"s","type":"nominal","title":null,"scale":{"domain":["原始模型","WordHanding","CWordAttacker","CWordCheater"],"range":["#A5A5A5","#FFC000","#ED7D31","#5B9BD5"]}}},
    "layer":[{"mark":{"type":"line","strokeWidth":1.5}},{"mark":{"type":"point","filled":true,"size":22,"opacity":1}}]}
  ]}
]
}
